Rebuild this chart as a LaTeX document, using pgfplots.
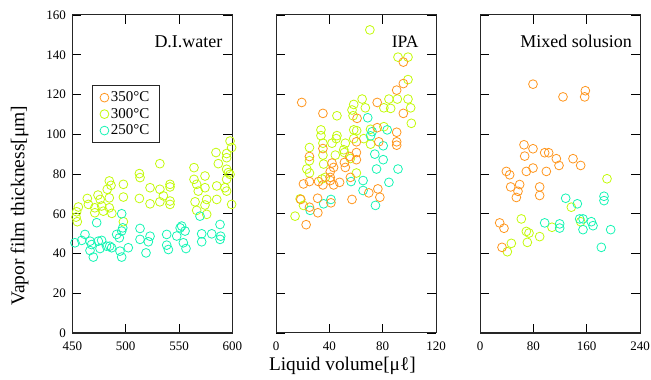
\documentclass[border=0pt]{standalone}
\usepackage{fontspec}
\setmainfont{Liberation Serif}
\usepackage{pgfplots}
\pgfplotsset{compat=1.18}
\definecolor{cA}{RGB}{255,150,30}
\definecolor{cB}{RGB}{195,250,10}
\definecolor{cC}{RGB}{20,245,180}
\pgfplotsset{
  panel/.style={
    scale only axis, width=160pt, height=318pt,
    ymin=0, ymax=160, ytick={0,20,...,160},
    tick align=inside, major tick length=9pt,
    xtick pos=both, ytick pos=both,
    xticklabel pos=bottom, yticklabel pos=left,
    axis line style={line width=1pt, black!85},
    every tick/.style={line width=0.9pt, black},
    tick label style={font=\fontsize{13}{13}\selectfont},
    xticklabel style={yshift=-5pt},
    yticklabel style={xshift=-3pt},
    /pgf/number format/assume math mode=true,
    minor tick num=0,
  },
  pts/.style={only marks, mark=o, mark size=4.4pt, mark options={line width=0.8pt}},
}
\begin{document}
\begin{tikzpicture}
% ---------- D.I. water ----------
\begin{axis}[panel, at={(0pt,0pt)},
  xmin=450, xmax=600, xtick={450,500,550,600},
  ylabel={Vapor film thickness[μm]},
  ylabel style={font=\fontsize{19.5}{19.5}\selectfont, at={(axis description cs:-0.33,0.40)}, anchor=center},
  legend style={at={(axis description cs:0.12,0.78)}, anchor=north west, draw=black!85, line width=0.9pt,
    font=\fontsize{15}{15}\selectfont, row sep=1pt, inner xsep=8pt, inner ysep=4.5pt},
  legend cell align=left,
]
\addlegendimage{pts, color=cA}\addlegendentry{350°C}
\addlegendimage{pts, color=cB}\addlegendentry{300°C}
\addlegendimage{pts, color=cC}\addlegendentry{250°C}
\addplot[pts, color=cB, forget plot] coordinates {
(532,85.2) (512.8,80.2) (513.4,78.2) (497.8,74.8) (484.6,76.5) (486.2,74.3) (482.7,72.3)
(474,69.4) (476,67.2) (464,67.7) (465,64.7) (455.6,63.4) (454,61) (453.4,58.3) (454.6,56)
(471,63) (471,60.5) (477.4,63.9) (479,61.3) (484.6,68) (484.6,63) (487,60.2) (497.8,68.4)
(497.8,56) (512.8,67.7) (522.8,73.1) (522.8,65) (532,72.3) (532,66) (541.5,74.8) (541.5,73.5)
(541.5,66.4) (541.5,64.7) (535.3,69) (564,83.2) (564,77.3) (574.3,79) (566.5,74.8) (568,71.4)
(565,66) (574.3,73.1) (575.9,67.2) (574.3,64.4) (575.9,59.7) (566.5,61.7) (584.6,90.8)
(586.8,85.2) (594.6,90.3) (594.6,88.2) (594.6,82.4) (597.8,96.6) (599.3,93.3) (594.6,77.3)
(593,73.1) (594.6,71.4) (596.2,80.7) (585.3,74) (599.3,64.7) (585.3,67.2) (597.8,79.8)
};
\addplot[pts, color=cC, forget plot] coordinates {
(496.2,60) (472.75,55.5) (452.4,45.4) (461.8,49.6) (458.7,46.6) (466.5,46.2) (468,44.5)
(466.5,41.5) (469.6,38.2) (474.3,46.2) (475.9,42.5) (477.4,46.6) (482,43.7) (485,43.7)
(486.8,42.9) (491.5,49.6) (494,47.9) (496.2,51.3) (497.2,52.9) (494.6,41.2) (496.2,38.2)
(502.4,42.9) (513.4,52.6) (513.4,47.1) (522.8,48.7) (521.2,45.9) (519,40.3) (538.4,49.6)
(538.4,44.2) (540,42) (547.8,48.8) (551,52.9) (552.4,53.8) (555.6,51.3) (554,45.4) (556.5,42.5)
(571.2,49.9) (571.2,45.9) (580.6,49.9) (588.4,54.6) (589,48.7) (588.4,47.1) (569.6,58.8)
};
\node[anchor=east, font=\fontsize{18}{18}\selectfont] at (axis description cs:0.96,0.916) {D.I.water};
\end{axis}
% ---------- IPA ----------
\begin{axis}[panel, at={(203.6pt,0pt)},
  xmin=0, xmax=120, xtick={0,40,80,120}, yticklabels={},
  xlabel={Liquid volume[μℓ]},
  xlabel style={font=\fontsize{19.3}{19.3}\selectfont, at={(axis description cs:0.415,-0.104)}, anchor=center},
]
\addplot[pts, color=cB] coordinates {
(70.4,152.5) (91.5,138.8) (99,138.8) (99,127.5) (64.6,117.7) (58.3,115) (67,113.3) (57,112.2)
(84.7,117.7) (91,117.7) (99,117.7) (101,113.3) (80.9,113.3) (86,113) (45.7,109.3) (57.8,109.3)
(101.5,105.5) (33.7,102.2) (33.7,99.3) (80.9,103.8) (58.3,102.2) (60.5,101.8) (45.7,99.3)
(42,95.5) (45.2,97.8) (52,95.5) (50.8,92.2) (25.1,93.3) (25.1,86.7) (23.1,82.5) (25.1,80.5)
(35.2,95.5) (35.2,89.5) (35.7,85) (44.5,89.5) (51.3,90.8) (58.3,97.8) (65.8,97.8) (70.9,95)
(70.9,102.5) (34.5,77.5) (37,78.3) (18.1,67.5) (20.6,64.2) (14.3,58.8) (60.3,80.5) (55.8,87.8)
};
\addplot[pts, color=cC] coordinates {
(68.8,108.3) (83.4,102.2) (72.1,101.3) (70.9,99.2) (80.4,94.2) (74.1,90) (80.4,87.2) (75.4,82.5)
(91.5,82.5) (84.7,75.8) (65.3,76.7) (65.3,71.7) (74.6,64.2) (56.3,76.2) (35.7,65) (41.2,67.2)
(25.6,61.7)
};
\addplot[pts, color=cA] coordinates {
(95.5,136.3) (95.5,125.5) (90.5,122.2) (19.3,116) (75.9,116) (35.2,110.5) (60.8,108) (95.5,110.5)
(75.9,103.3) (90.5,101) (60.3,96.2) (77.1,96.2) (90.5,96.2) (90.5,94.5) (25.1,88.8) (35.2,92.8)
(60.3,90.8) (60.3,87.2) (55.3,88.8) (42,85.5) (43.2,83.3) (40.7,81.2) (40.7,78.3) (40.7,76.7)
(51.3,85.8) (52,83.3) (55.8,78.3) (47.7,75.8) (20.6,75) (25.1,76.2) (31.9,76.2) (35.2,74.5)
(43.2,74.5) (57,67.2) (69.6,70.5) (76.4,72.5) (77.9,68.3) (18.6,67.2) (25.1,63.3) (31.2,67.8)
(31.4,60.5) (41.2,65.5) (22.6,54.5)
};
\node[anchor=east, font=\fontsize{17.5}{17.5}\selectfont] at (axis description cs:0.912,0.916) {IPA};
\end{axis}
% ---------- Mixed ----------
\begin{axis}[panel, at={(407.6pt,0pt)},
  xmin=0, xmax=240, xtick={0,80,160,240}, yticklabels={},
]
\addplot[pts, color=cB] coordinates {
(190.5,77.6) (137,63.3) (62,57.4) (108,53.2) (151,56) (69.5,51.1) (73.5,50.3) (71,45.6)
(89.5,48.5) (47,45.1) (41,40.9)
};
\addplot[pts, color=cC] coordinates {
(128.5,67.8) (146,65) (186,68.8) (186,66.6) (97,55.4) (119.5,54.9) (119.5,52.8) (149.5,57.4)
(154.5,57.4) (167,56) (169.5,54) (154.5,52) (196,52) (182,43.1)
};
\addplot[pts, color=cA] coordinates {
(79.5,125.2) (124.5,118.8) (157,118.8) (158,121.9) (66,94.7) (79.5,92.7) (67,89) (97,90.7)
(103,90.7) (114.5,87.7) (118.5,84.3) (139.5,87.7) (151,84.3) (39.5,81.3) (44.5,79.6) (69.5,81.3)
(79.5,83) (99.5,81.3) (46,73.5) (59.5,74.7) (57,71.3) (54.5,68.2) (89.5,73.5) (89.5,69.2)
(29.5,55.4) (36,52.7) (33,43.1)
};
\node[anchor=east, font=\fontsize{18}{18}\selectfont] at (axis description cs:0.972,0.916) {Mixed solusion};
\end{axis}
\pgfresetboundingbox
\path[use as bounding box] (-72.4pt,-47pt) rectangle (578.6pt,333pt);
\end{tikzpicture}
\end{document}
